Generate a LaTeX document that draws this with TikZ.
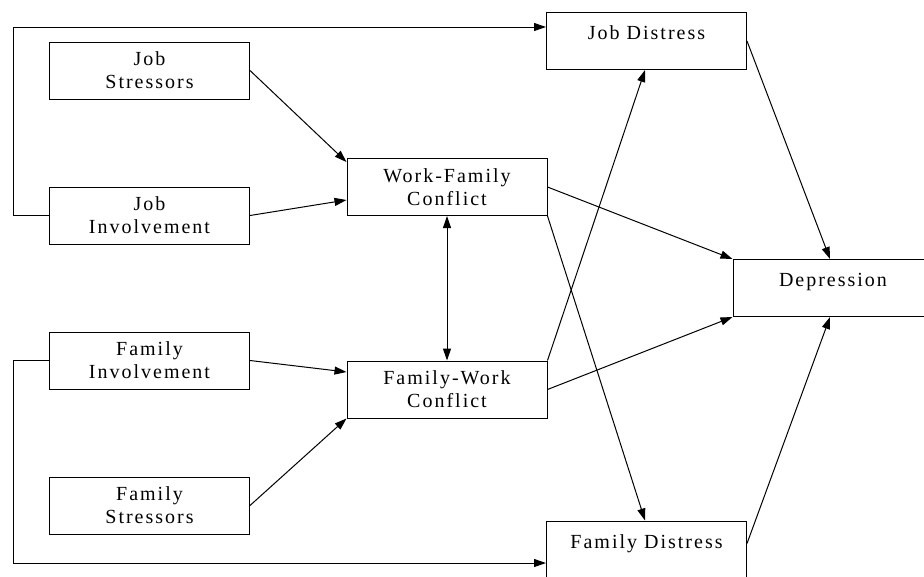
\documentclass[tikz,border=0pt]{standalone}
\usepackage{fontspec}
\setmainfont{Liberation Serif}[LetterSpace=10]
\usetikzlibrary{arrows.meta}
\usetikzlibrary{positioning}

\tikzset{
  box/.style={draw, line width=1pt, minimum width=200pt, minimum height=57pt,
    align=center, inner sep=2pt, font=\fontsize{20}{23}\selectfont},
  topbox/.style={box, text height=23pt, text depth=26pt, inner ysep=4pt},
  link/.style={->, >={Triangle[length=12pt,width=8pt]}, line width=1pt},
}

\begin{document}
\begin{tikzpicture}[x=1pt,y=-1pt]
      \useasboundingbox (0,0) rectangle (924,576);
      \node[box] (jstress) at (149.5,70.5) {Job\\Stressors};
      \node[box] (jinv) at (149.5,215.5) {Job\\Involvement};
      \node[box] (finv) at (149.5,360.5) {Family\\Involvement};
      \node[box] (fstress) at (149.5,505.5) {Family\\Stressors};
      \node[box] (wfc) at (447,187) {Work-Family\\Conflict};
      \node[box] (fwc) at (447,389.5) {Family-Work\\Conflict};
      \node[topbox] (jdist) at (646.5,41) {Job Distress};
      \node[topbox] (fdist) at (646.5,549.5) {Family Distress};
      \node[topbox] (depr) at (833,288) {Depression};
      \coordinate (tl) at (13,27);
      \coordinate (bl) at (13,563);
      \draw[link] (jinv.west) -| (tl) -- (jdist.west |- tl);
      \draw[link] (finv.west) -| (bl) -- (fdist.west |- bl);
      \draw[link] (jstress.east) -- ([yshift=-4pt]wfc.north west);
      \draw[link] (jinv.east) -- ([yshift=-13pt]wfc.west);
      \draw[link] (finv.east) -- ([yshift=17.5pt]fwc.west);
      \draw[link] (fstress.east) -- (fwc.south west);
      \draw[link,<->] (wfc.south) -- (fwc.north);
      \draw[link] (wfc.east) -- (depr.north west);
      \draw[link] (wfc.south east) -- ([xshift=-1.5pt]fdist.north);
      \draw[link] (fwc.north east) -- ([xshift=-1.5pt]jdist.south);
      \draw[link] (fwc.east) -- (depr.south west);
      \draw[link] (jdist.east) -- ([xshift=-3pt]depr.north);
      \draw[link] ([yshift=6pt]fdist.east) -- ([xshift=-3pt]depr.south);
    \end{tikzpicture}
\end{document}
